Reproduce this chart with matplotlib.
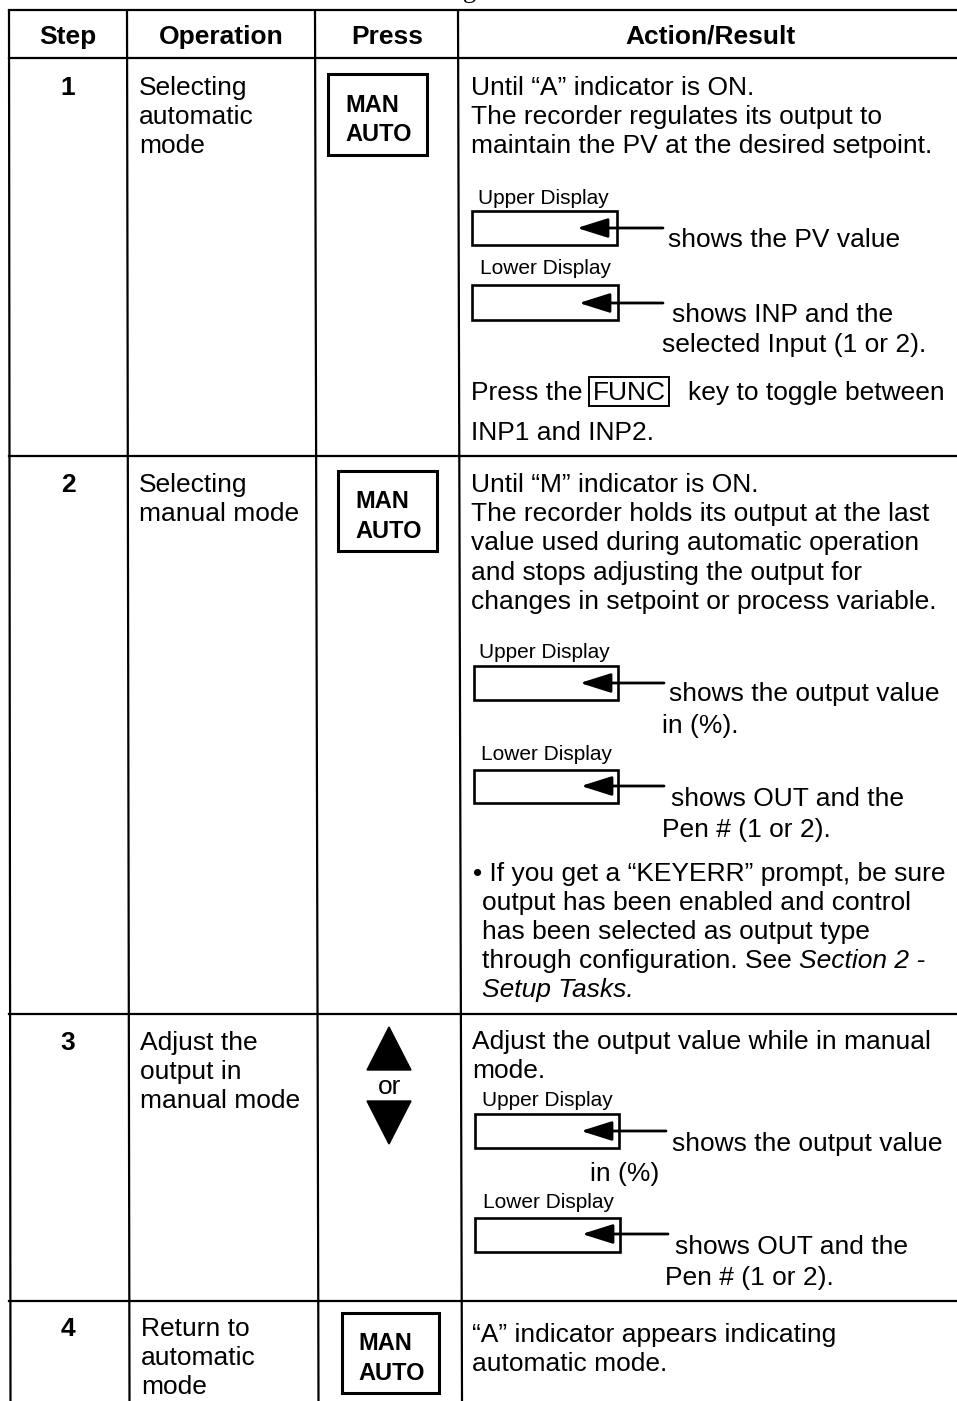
import matplotlib
matplotlib.use("Agg")
import matplotlib.pyplot as plt
from matplotlib.patches import Rectangle, Polygon

plt.rcParams['font.family'] = ['Liberation Sans', 'DejaVu Sans']

# ---------------- data (table content) ----------------
headers = ["Step", "Operation", "Press", "Action/Result"]
steps = ["1", "2", "3", "4"]
operations = [
    ["Selecting", "automatic", "mode"],
    ["Selecting", "manual mode"],
    ["Adjust the", "output in", "manual mode"],
    ["Return to", "automatic", "mode"],
]
key_lines = ["MAN", "AUTO"]
arrow_key_word = "or"

row1_intro = ["Until \u201cA\u201d indicator is ON.",
              "The recorder regulates its output to",
              "maintain the PV at the desired setpoint."]
row1_upper = ["shows the PV value"]
row1_lower = ["shows INP and the", "selected Input (1 or 2)."]
row1_press = ["Press the", "FUNC", "key to toggle between", "INP1 and INP2."]

row2_intro = ["Until \u201cM\u201d indicator is ON.",
              "The recorder holds its output at the last",
              "value used during automatic operation",
              "and stops adjusting the output for",
              "changes in setpoint or process variable."]
row2_upper = ["shows the output value", "in (%)."]
row2_lower = ["shows OUT and the", "Pen # (1 or 2)."]
row2_note = ["\u2022 If you get a \u201cKEYERR\u201d prompt, be sure",
             "output has been enabled and control",
             "has been selected as output type",
             "through configuration. See "]
row2_note_italic = ["Section 2 -", "Setup Tasks."]

row3_intro = ["Adjust the output value while in manual", "mode."]
row3_upper = ["shows the output value", "in (%)"]
row3_lower = ["shows OUT and the", "Pen # (1 or 2)."]

row4_intro = ["\u201cA\u201d indicator appears indicating", "automatic mode."]

display_labels = ["Upper Display", "Lower Display"]

# ---------------- figure ----------------
W, H = 957, 1401
fig = plt.figure(figsize=(W / 100, H / 100), dpi=100)
ax = fig.add_axes([0, 0, 1, 1])
ax.set_xlim(0, W)
ax.set_ylim(H, 0)
ax.axis('off')

FS = 19      # body text
FS_S = 15    # display labels
FS_K = 17    # key labels
LW = 1.6
DY = 2       # vertical text nudge

def txt(x, y, s, size=FS, weight='normal', ha='left', style='normal', **kw):
    return ax.text(x, y + DY, s, fontsize=size, fontweight=weight, ha=ha, va='center',
                   fontstyle=style, color='black', **kw)

# ---------------- grid ----------------
col_top = [9, 127, 315, 458]
col_bot = [10.5, 129.5, 318.5, 462]
for xt, xb in zip(col_top, col_bot):
    ax.plot([xt, xb], [10, H], color='black', lw=LW, solid_capstyle='butt')
for y in [10, 58, 456, 1014, 1301]:
    ax.plot([9, W], [y, y], color='black', lw=LW)

# partial title glyph cut off at top edge of the scan
ax.text(463, -2, "g", fontsize=19, family='Liberation Serif', va='baseline', ha='left')

# ---------------- header ----------------
for cx, h in zip([68, 221, 387, 710], headers):
    txt(cx, 35, h, weight='bold', ha='center')

# ---------------- step numbers & operations ----------------
step_y = [86, 483, 1041, 1327]
op_x = [139, 139, 140, 141]
for s, y0, ox, ops in zip(steps, step_y, op_x, operations):
    txt(68, y0, s, weight='bold', ha='center')
    for i, line in enumerate(ops):
        txt(ox, y0 + i * 29.2, line)

# ---------------- key boxes ----------------
def key_box(x0, y0, x1, y1, tx, ty):
    ax.add_patch(Rectangle((x0, y0), x1 - x0, y1 - y0, fill=False, lw=2.2, ec='black'))
    for i, k in enumerate(key_lines):
        txt(tx, ty + i * 29.5, k, size=FS_K, weight='bold')

key_box(328, 74, 427, 155, 345, 103)
key_box(338, 471, 437, 551, 355, 500)
key_box(342, 1313, 439, 1393, 358, 1342)

# up / down triangles
ax.add_patch(Polygon([(367, 1070), (411, 1070), (389, 1027)], closed=True, fc='black', ec='black'))
ax.add_patch(Polygon([(367, 1101), (411, 1101), (389, 1144)], closed=True, fc='black', ec='black'))
txt(390, 1085, arrow_key_word, ha='center')

# ---------------- display diagrams ----------------
def draw_display(label, lx, ly, box, arrow_y, arrow_x0, arrow_x1):
    txt(lx, ly, label, size=FS_S)
    x0, y0, x1, y1 = box
    ax.add_patch(Rectangle((x0, y0), x1 - x0, y1 - y0, fill=False, lw=1.9, ec='black'))
    ax.annotate('', xy=(arrow_x1, arrow_y), xytext=(arrow_x0, arrow_y),
                arrowprops=dict(arrowstyle='-|>,head_length=1.9,head_width=0.6',
                                lw=2.0, color='black', shrinkA=0, shrinkB=0))

# Row 1
for i, line in enumerate(row1_intro):
    txt(471, 86 + i * 29.2, line)
draw_display(display_labels[0], 478, 196, (472, 211, 617, 245), 228, 663, 577)
txt(668, 238, row1_upper[0])
draw_display(display_labels[1], 480, 267, (472, 285, 618, 320), 303, 663, 579)
txt(672, 313, row1_lower[0])
txt(662, 343, row1_lower[1])
txt(471, 391, row1_press[0])
ax.add_patch(Rectangle((589, 377), 80, 29, fill=False, lw=1.4, ec='black'))
txt(629, 391, row1_press[1], ha='center')
txt(688, 391, row1_press[2])
txt(471, 431, row1_press[3])

# Row 2
for i, line in enumerate(row2_intro):
    txt(471, 483 + i * 29.2, line)
draw_display(display_labels[0], 479, 650, (474, 666, 618, 700), 683, 664, 580)
txt(669, 692, row2_upper[0])
txt(662, 724, row2_upper[1])
draw_display(display_labels[1], 481, 752, (474, 770, 618, 803), 786, 664, 581)
txt(671, 797, row2_lower[0])
txt(662, 828, row2_lower[1])
note_y = [872, 901, 930, 959]
txt(473, note_y[0], row2_note[0])
for i in range(1, 4):
    t = txt(482, note_y[i], row2_note[i])
fig.canvas.draw()
bb = t.get_window_extent(renderer=fig.canvas.get_renderer())
x_end = ax.transData.inverted().transform((bb.x1, bb.y0))[0]
txt(x_end, note_y[3], row2_note_italic[0], style='italic')
txt(482, 988, row2_note_italic[1], style='italic')

# Row 3
for i, line in enumerate(row3_intro):
    txt(472, 1040 + i * 29.2, line)
draw_display(display_labels[0], 482, 1099, (475, 1114, 619, 1148), 1131, 666, 581)
txt(672, 1142, row3_upper[0])
txt(590, 1172, row3_upper[1])
draw_display(display_labels[1], 483, 1200, (475, 1218, 620, 1252), 1234, 668, 582)
txt(675, 1245, row3_lower[0])
txt(665, 1276, row3_lower[1])

# Row 4
for i, line in enumerate(row4_intro):
    txt(472, 1333 + i * 29.2, line)

fig.savefig("out.png", dpi=100, facecolor='white')
